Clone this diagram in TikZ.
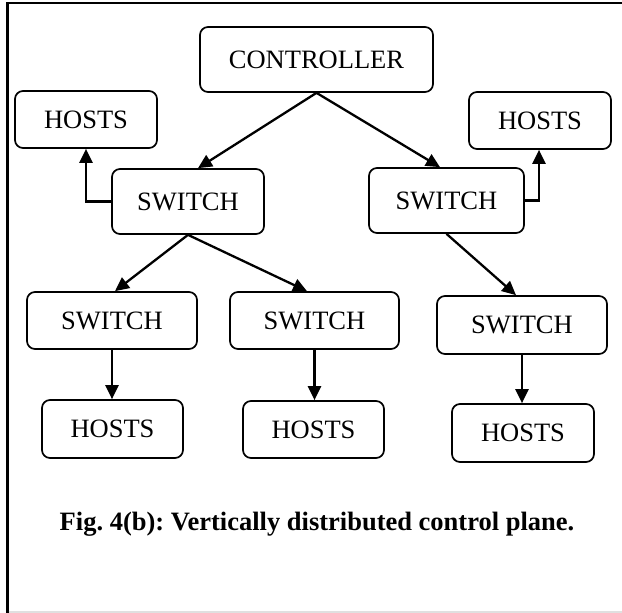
\documentclass[tikz,border=0pt]{standalone}
\usepackage{fontspec}
\setmainfont{Liberation Serif}
\usetikzlibrary{arrows.meta,calc}
\begin{document}
\frenchspacing
\begin{tikzpicture}[x=1pt,y=-1pt,
  box/.style={draw,line width=1.7pt,rounded corners=8pt,inner sep=0pt,
    font=\fontsize{26.5}{30}\selectfont},
  conn/.style={line width=2.3pt,-{Triangle[length=14pt,width=13pt]}},
  frame/.style={line width=2.4pt}]
\useasboundingbox (0,0) rectangle (622,613);
\fill[white] (0,0) rectangle (622,613);
% frame
\draw[frame] (7.5,613) -- (7.5,3) -- (622,3);
\draw[line width=2pt,black!12] (8.5,612) -- (622,612);
% nodes
\node[box,minimum width=233pt,minimum height=65pt] (ctrl) at (316.5,59.5) {CONTROLLER};
\node[box,minimum width=142pt,minimum height=57pt] (hl) at (86,119.5) {HOSTS};
\node[box,minimum width=142pt,minimum height=57pt] (hr) at (540,120.5) {HOSTS};
\node[box,minimum width=152pt,minimum height=65pt] (swl) at (188,201.5) {SWITCH};
\node[box,minimum width=155pt,minimum height=65pt] (swr) at (446.5,200.5) {SWITCH};
\node[box,minimum width=170pt,minimum height=57pt] (s1) at (112,320.5) {SWITCH};
\node[box,minimum width=169pt,minimum height=57pt] (s2) at (314.5,320.5) {SWITCH};
\node[box,minimum width=170pt,minimum height=58pt] (s3) at (522,325) {SWITCH};
\node[box,minimum width=141pt,minimum height=58pt] (h1) at (112.5,429) {HOSTS};
\node[box,minimum width=141pt,minimum height=57pt] (h2) at (313.5,429.5) {HOSTS};
\node[box,minimum width=142pt,minimum height=58pt] (h3) at (523,433) {HOSTS};
% caption
\node[anchor=base,inner sep=0pt,font=\fontsize{26.5}{30}\selectfont\bfseries] (cap) at (317,530)
  {Fig. 4(b): Vertically distributed control plane.};
% connectors
\draw[conn] (ctrl.south) -- ($(swl.north)+(10,0)$);
\draw[conn] (ctrl.south) -- ($(swr.north)+(-6.5,0)$);
\draw[conn] (swl.west) -- (hl.south |- swl.west) -- (hl.south);
\draw[conn] (swr.east) -- ($(hr.south |- swr.east)+(-1,0)$) -- ($(hr.south)+(-1,0)$);
\draw[conn] (swl.south) -- ($(s1.north)+(3,0)$);
\draw[conn] (swl.south) -- ($(s2.north)+(-7.5,0)$);
\draw[conn] (swr.south) -- ($(s3.north)+(-6,0)$);
\draw[conn] (s1.south) -- (s1.south |- h1.north);
\draw[conn] (s2.south) -- (s2.south |- h2.north);
\draw[conn] (s3.south) -- (s3.south |- h3.north);
\end{tikzpicture}
\end{document}
